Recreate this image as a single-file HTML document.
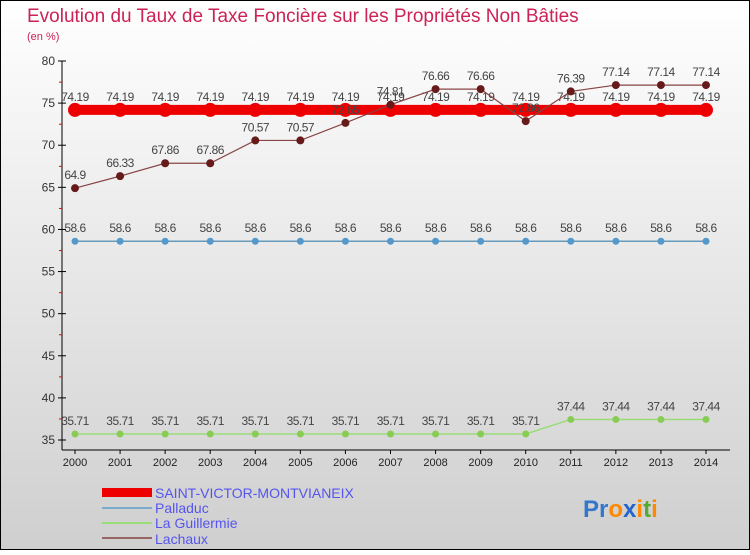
<!DOCTYPE html>
<html><head><meta charset="utf-8"><style>
body{margin:0;}
#c{width:750px;height:550px;position:relative;}
svg text{font-family:"Liberation Sans",sans-serif;}
</style></head><body>
<div id="c">
<svg id="s" width="750" height="550" xmlns="http://www.w3.org/2000/svg">
<defs><linearGradient id="bg" x1="0" y1="0" x2="0" y2="1">
<stop offset="0" stop-color="#ffffff"/><stop offset="1" stop-color="#cfcfcf"/></linearGradient></defs>
<rect x="0.5" y="0.5" width="749" height="549" fill="url(#bg)" stroke="#000"/>
<text x="27" y="22" font-size="19" fill="#cc2255">Evolution du Taux de Taxe Foncière sur les Propriétés Non Bâties</text>
<text x="27" y="40" font-size="11" fill="#cc2255">(en %)</text>
<g id="axes"></g><g id="marks"></g>
<g>
<rect x="102" y="488" width="50" height="9" fill="#ee0000"/>
<text x="155" y="498" font-size="14" fill="#5555ee">SAINT-VICTOR-MONTVIANEIX</text>
<line x1="102" y1="508" x2="152" y2="508" stroke="#7aaacc" stroke-width="2"/>
<text x="155" y="513" font-size="14" fill="#5555ee">Palladuc</text>
<line x1="102" y1="523" x2="152" y2="523" stroke="#99dd77" stroke-width="2"/>
<text x="155" y="528" font-size="14" fill="#5555ee">La Guillermie</text>
<line x1="102" y1="538" x2="152" y2="538" stroke="#996666" stroke-width="2"/>
<text x="155" y="544" font-size="14" fill="#5555ee">Lachaux</text>
</g>
<text x="583" y="517" font-size="24" font-weight="bold"><tspan fill="#3377cc">Pr</tspan><tspan fill="#ff8800">o</tspan><tspan fill="#2266cc">x</tspan><tspan fill="#ff8800">i</tspan><tspan fill="#55aa33">t</tspan><tspan fill="#ff8800">i</tspan></text>
</svg></div>
<script>
const years=[2000,2001,2002,2003,2004,2005,2006,2007,2008,2009,2010,2011,2012,2013,2014];
const yTicks=[35,40,45,50,55,60,65,70,75,80];
const saintVictor=[74.19,74.19,74.19,74.19,74.19,74.19,74.19,74.19,74.19,74.19,74.19,74.19,74.19,74.19,74.19];
const palladuc=[58.6,58.6,58.6,58.6,58.6,58.6,58.6,58.6,58.6,58.6,58.6,58.6,58.6,58.6,58.6];
const guillermie=[35.71,35.71,35.71,35.71,35.71,35.71,35.71,35.71,35.71,35.71,35.71,37.44,37.44,37.44,37.44];
const lachaux=[64.9,66.33,67.86,67.86,70.57,70.57,72.65,74.81,76.66,76.66,72.86,76.39,77.14,77.14,77.14];
const NS="http://www.w3.org/2000/svg";
const X=i=>75+i*(706-75)/(years.length-1);
const Y=v=>440-(v-35)*(379/45);
function mk(t,a,p){const e=document.createElementNS(NS,t);for(const k in a)e.setAttribute(k,a[k]);p.appendChild(e);return e;}
const ax=document.getElementById('axes'),mg=document.getElementById('marks');
let yl=mk('line',{x1:62,y1:61,x2:62,y2:450,stroke:'#000'},ax);


let xl=mk('line',{x1:62,y1:450,x2:730,y2:450,stroke:'#000'},ax);


yTicks.forEach(v=>{const y=Y(v);mk('line',{x1:58,y1:y,x2:66,y2:y,stroke:'#000'},ax);
const t=mk('text',{x:55,y:y+4,'font-size':12,'text-anchor':'end',fill:'#333'},ax);t.textContent=v;


if(v<80){mk('line',{x1:59,y1:y-21,x2:62,y2:y-21,stroke:'#e00'},ax);}});
years.forEach((yr,i)=>{const x=X(i);mk('line',{x1:x,y1:450,x2:x,y2:454,stroke:'#000'},ax);
const t=mk('text',{x:x,y:466,'font-size':11,'text-anchor':'middle',fill:'#222'},ax);t.textContent=yr;

});
function series(vals,color,w,r,dot,name){
const g=mk('g',{},mg);


mk('polyline',{points:vals.map((v,i)=>X(i)+','+Y(v)).join(' '),fill:'none',stroke:color,'stroke-width':w},g);
vals.forEach((v,i)=>{const c=mk('circle',{cx:X(i),cy:Y(v),r:r,fill:dot},g);


const t=mk('text',{x:X(i),y:Y(v)-9,'font-size':12,'text-anchor':'middle',fill:'#444','letter-spacing':'-0.5'},g);t.textContent=v;

});}
series(palladuc,'#6699bb',1.5,3.5,'#5599cc','palladuc-series');
series(guillermie,'#99dd77',1.5,3.5,'#88cc55','la-guillermie-series');
series(saintVictor,'#ee0000',10,7,'#ee0000','saint-victor-series');
series(lachaux,'#884444',1.2,4,'#661a1a','lachaux-series');
</script>
</body></html>
